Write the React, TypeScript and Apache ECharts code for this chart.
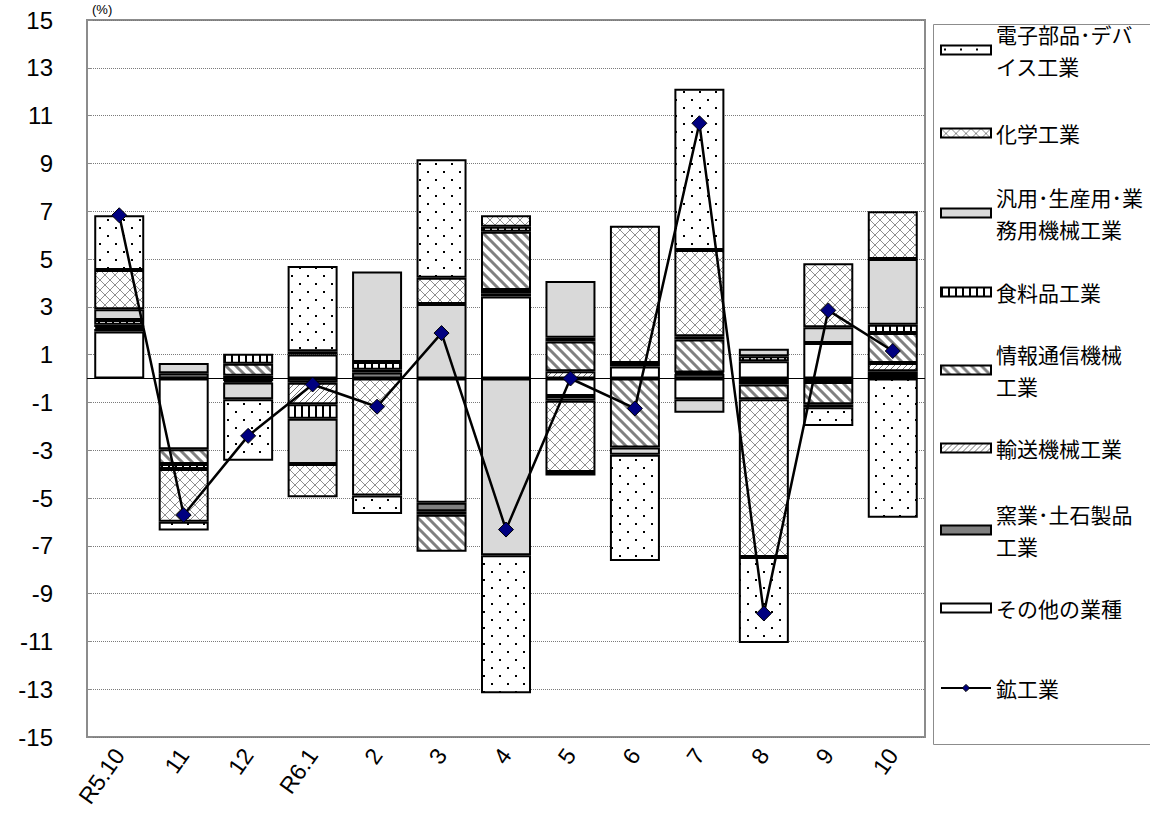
import React, { useEffect, useRef } from 'react';
import * as echarts from 'echarts';

// ---- data ----
const categories = ['R5.10', '11', '12', 'R6.1', '2', '3', '4', '5', '6', '7', '8', '9', '10'];
// stacked from the zero line outward, in this order
const otherVals = [1.97, -2.96, -0.1, 1.0, 0, -5.2, 3.43, -0.73, 0.5, -0.87, 0.72, 1.49, 0.15];
const ceramicVals = [0.1, 0.22, 0.12, -0.18, 0.25, -0.35, 0.12, -0.2, 0, 0.2, -0.15, -0.15, 0.15];
const transportVals = [0.08, 0, -0.07, -0.9, 0, -0.15, 0.15, 0.3, 0, 0.05, -0.1, 0, 0.35];
const infoVals = [0.1, -0.62, 0.5, 0.14, 0.12, -1.55, 2.44, 1.25, -2.89, 1.38, -0.62, -0.93, 1.25];
const foodVals = [0.2, -0.21, 0.42, -0.6, 0.32, 0, 0.21, 0.15, 0.15, 0.14, 0.21, -0.12, 0.35];
const machineVals = [0.45, 0.43, -0.7, -1.9, 3.79, 3.12, -7.4, 2.38, -0.3, -0.56, 0.31, 0.65, 2.75];
const chemVals = [1.64, -2.2, 0, -1.39, -4.9, 1.1, 0.48, -2.98, 5.74, 3.61, -6.6, 2.68, 2.0];
const electronVals = [2.29, -0.37, -2.57, 3.57, -0.77, 4.95, -5.77, -0.15, -4.45, 6.74, -3.6, -0.79, -5.83];
const totalVals = [6.83, -5.71, -2.4, -0.25, -1.18, 1.9, -6.32, 0.0, -1.25, 10.68, -9.83, 2.85, 1.15];

const NAME_ELEC = '電子部品･デバイス工業';
const NAME_CHEM = '化学工業';
const NAME_MACH = '汎用･生産用･業務用機械工業';
const NAME_FOOD = '食料品工業';
const NAME_INFO = '情報通信機械工業';
const NAME_TRAN = '輸送機械工業';
const NAME_CERA = '窯業･土石製品工業';
const NAME_OTHR = 'その他の業種';
const NAME_TOTAL = '鉱工業';

const JP = '"Noto Sans CJK JP", "Noto Sans", sans-serif';
const NUM = '"Liberation Sans", Arial, sans-serif';

function pattern(w: number, h: number, body: string) {
  const svg = `<svg xmlns="http://www.w3.org/2000/svg" width="${w}" height="${h}"><rect width="${w}" height="${h}" fill="#ffffff"/>${body}</svg>`;
  return {
    image: 'data:image/svg+xml;charset=utf-8,' + encodeURIComponent(svg),
    repeat: 'repeat',
    imageWidth: w,
    imageHeight: h,
  };
}

const FILL_DOTS = pattern(16, 16, '<rect x="3" y="3" width="2" height="2" fill="#000"/><rect x="11" y="11" width="2" height="2" fill="#000"/>');
const FILL_CROSS = pattern(10, 10, '<path d="M0,0 L10,10 M10,0 L0,10" stroke="#8f8f8f" stroke-width="1" fill="none"/>');
const FILL_VSTRIPE = pattern(7, 8, '<rect x="0" y="0" width="2" height="8" fill="#000"/>');
const FILL_THICKDIAG = pattern(10, 10, '<path d="M-5,-5 L15,15 M-5,5 L5,15 M5,-5 L15,5" stroke="#808080" stroke-width="3" fill="none"/>');
const FILL_THINDIAG = pattern(6, 6, '<path d="M0,6 L6,0 M-1,1 L1,-1 M5,7 L7,5" stroke="#707070" stroke-width="1" fill="none"/>');

const barDefs = [
  { name: NAME_OTHR, data: otherVals, fill: '#ffffff' },
  { name: NAME_CERA, data: ceramicVals, fill: '#808080' },
  { name: NAME_TRAN, data: transportVals, fill: FILL_THINDIAG },
  { name: NAME_INFO, data: infoVals, fill: FILL_THICKDIAG },
  { name: NAME_FOOD, data: foodVals, fill: FILL_VSTRIPE },
  { name: NAME_MACH, data: machineVals, fill: '#d9d9d9' },
  { name: NAME_CHEM, data: chemVals, fill: FILL_CROSS },
  { name: NAME_ELEC, data: electronVals, fill: FILL_DOTS },
];

const legendItems = [
  { name: NAME_ELEC, label: '電子部品･デバ\nイス工業', y: 50, lines: 2 },
  { name: NAME_CHEM, label: '化学工業', y: 133, lines: 1 },
  { name: NAME_MACH, label: '汎用･生産用･業\n務用機械工業', y: 213, lines: 2 },
  { name: NAME_FOOD, label: '食料品工業', y: 292, lines: 1 },
  { name: NAME_INFO, label: '情報通信機械\n工業', y: 370, lines: 2 },
  { name: NAME_TRAN, label: '輸送機械工業', y: 448, lines: 1 },
  { name: NAME_CERA, label: '窯業･土石製品\n工業', y: 530, lines: 2 },
  { name: NAME_OTHR, label: 'その他の業種', y: 608, lines: 1 },
  { name: NAME_TOTAL, label: '鉱工業', y: 688, lines: 1 },
];

export default function App() {
  const ref = useRef<HTMLDivElement>(null);

  useEffect(() => {
    if (!ref.current) return;
    const chart = echarts.init(ref.current, undefined, { renderer: 'svg' });

    const LH = 32;
    const legends = legendItems.map((it) => ({
      show: true,
      orient: 'vertical',
      left: 940,
      top: it.y - (it.lines === 2 ? LH * 1.5 : LH / 2),
      padding: 0,
      itemGap: 0,
      itemWidth: 50,
      itemHeight: 9,
      selectedMode: false,
      data: [it.name === NAME_TOTAL ? { name: it.name } : { name: it.name, icon: 'rect' }],
      formatter: () => it.label,
      itemStyle: it.name === NAME_TOTAL ? { borderColor: '#000', borderWidth: 1 } : { borderColor: '#000', borderWidth: 2 },
      textStyle: {
        fontSize: 21,
        lineHeight: LH,
        fontFamily: JP,
        color: '#000',
        padding: it.lines === 2 ? [LH, 0, 0, 0] : 0,
        backgroundColor: 'rgba(255,255,255,0)',
      },
    }));

    const series: any[] = barDefs.map((d) => ({
      type: 'bar',
      name: d.name,
      stack: 'total',
      data: d.data.map((v) => (v === 0 ? null : v)),
      barWidth: 50,
      itemStyle: { color: d.fill, borderColor: '#000', borderWidth: 2 },
      emphasis: { disabled: true },
    }));

    series.push({
      type: 'line',
      name: NAME_TOTAL,
      data: totalVals,
      symbol: 'diamond',
      symbolSize: 15,
      z: 10,
      lineStyle: { color: '#000', width: 2.5 },
      itemStyle: { color: '#000080', borderColor: '#000', borderWidth: 1 },
      emphasis: { disabled: true },
      markLine: {
        silent: true,
        symbol: 'none',
        label: { show: false },
        lineStyle: { color: '#000', width: 1, type: 'solid' },
        data: [{ yAxis: 0 }],
      },
    });

    chart.setOption({
      animation: false,
      backgroundColor: '#ffffff',
      grid: {
        left: 87,
        right: 225,
        top: 20,
        bottom: 89,
        show: true,
        borderColor: '#8c8c8c',
        borderWidth: 2,
        backgroundColor: 'transparent',
      },
      legend: legends,
      xAxis: {
        type: 'category',
        data: categories,
        axisLine: { show: false, onZero: false },
        axisTick: { show: false },
        splitLine: { show: false },
        axisLabel: { rotate: 55, fontSize: 23, margin: 14, color: '#000', fontFamily: NUM, interval: 0 },
      },
      yAxis: {
        type: 'value',
        min: -15,
        max: 15,
        interval: 2,
        axisLine: { show: true, lineStyle: { color: '#8c8c8c', width: 2 } },
        axisTick: { show: true, inside: true, length: 5, lineStyle: { color: '#8c8c8c' } },
        splitLine: { show: true, lineStyle: { color: '#7a7a7a', type: 'dotted', width: 1 } },
        axisLabel: { fontSize: 24, margin: 34, color: '#000', fontFamily: NUM },
      },
      graphic: [
        {
          type: 'rect',
          left: 931,
          top: 22,
          shape: { width: 240, height: 720 },
          style: { fill: 'none', stroke: '#8c8c8c', lineWidth: 1 },
          silent: true,
        },
        {
          type: 'text',
          left: 92,
          top: 3,
          style: { text: '(%)', font: `13px ${NUM}`, fill: '#000' },
          silent: true,
        },
      ],
      series,
    });

    return () => chart.dispose();
  }, []);

  return (
    <div
      ref={ref}
      style={{ position: 'absolute', left: 0, top: 0, width: 1150, height: 826, background: '#fff' }}
    />
  );
}
